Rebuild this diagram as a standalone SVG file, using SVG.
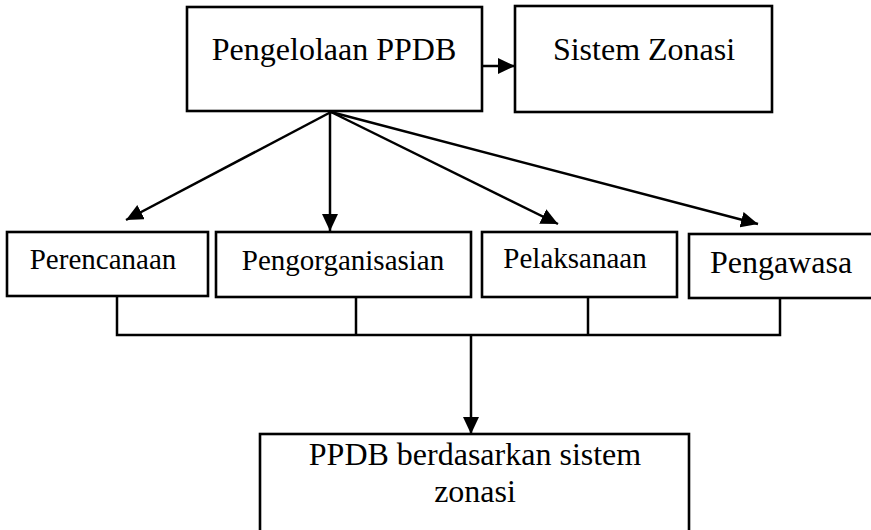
<svg xmlns="http://www.w3.org/2000/svg" width="871" height="530" viewBox="0 0 871 530">
<defs>
<marker id="arr" markerUnits="userSpaceOnUse" markerWidth="18" markerHeight="16" refX="17" refY="8" orient="auto">
<path d="M0,0 L17,8 L0,16 Z" fill="#000"/>
</marker>
<style>
.box{fill:#fff;stroke:#000;stroke-width:2.6}
.t{font-family:"Liberation Serif","Times New Roman",serif;fill:#000;text-anchor:middle}
.big{font-size:32px}
.sm{font-size:29px}
.c{fill:none;stroke:#000;stroke-width:2.5}
</style>
</defs>
<rect width="871" height="530" fill="#fff"/>
<g id="connectors">
<line class="c" x1="482" y1="66" x2="515" y2="66" marker-end="url(#arr)"/>
<line class="c" x1="331" y1="112" x2="126" y2="220" marker-end="url(#arr)"/>
<line class="c" x1="330" y1="112" x2="330" y2="231" marker-end="url(#arr)"/>
<line class="c" x1="331" y1="112" x2="558" y2="224" marker-end="url(#arr)"/>
<line class="c" x1="331" y1="112" x2="758" y2="224" marker-end="url(#arr)"/>
<polyline class="c" points="117,296 117,335 780,335 780,298"/>
<line class="c" x1="356" y1="297" x2="356" y2="335"/>
<line class="c" x1="588" y1="297" x2="588" y2="335"/>
<line class="c" x1="471" y1="335" x2="471" y2="434" marker-end="url(#arr)"/>
</g>
<g id="pengelolaan">
<rect class="box" x="187" y="7" width="295" height="104"/>
<text class="t big" x="334" y="60">Pengelolaan PPDB</text>
</g>
<g id="sistem-zonasi">
<rect class="box" x="515" y="6" width="257" height="106"/>
<text class="t big" x="644" y="60">Sistem Zonasi</text>
</g>
<g id="perencanaan">
<rect class="box" x="7" y="232" width="201" height="64"/>
<text class="t sm" x="103" y="269">Perencanaan</text>
</g>
<g id="pengorganisasian">
<rect class="box" x="216" y="232" width="255" height="65"/>
<text class="t sm" x="343" y="270">Pengorganisasian</text>
</g>
<g id="pelaksanaan">
<rect class="box" x="482" y="232" width="195" height="65"/>
<text class="t sm" x="575" y="268">Pelaksanaan</text>
</g>
<g id="pengawasa">
<rect class="box" x="689" y="234" width="190" height="64"/>
<text class="t big" x="781" y="273">Pengawasa</text>
</g>
<g id="ppdb-zonasi">
<rect class="box" x="260" y="434" width="429" height="100"/>
<text class="t big" x="475" y="465">PPDB berdasarkan sistem</text>
<text class="t big" x="475" y="502">zonasi</text>
</g>
</svg>
